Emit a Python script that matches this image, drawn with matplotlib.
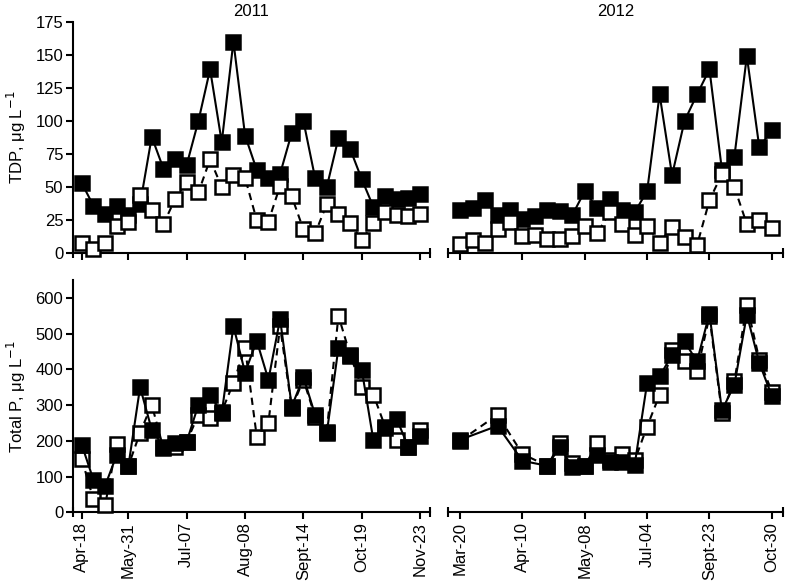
import matplotlib.pyplot as plt
import numpy as np

plt.rcParams['font.family'] = ['Liberation Sans', 'DejaVu Sans']

# sample positions (index of sampling date)
idx_2011 = np.arange(30)
idx_2012 = np.arange(26)
idx_2012_tp = np.array([0, 3, 5] + list(range(7, 26)))

# tick labels
ticks_2011 = [0, 4, 9, 14, 19, 24, 29]
labels_2011 = ['Apr-18', 'May-31', 'Jul-07', 'Aug-08', 'Sept-14', 'Oct-19', 'Nov-23']
ticks_2012 = [0, 5, 10, 15, 20, 25]
labels_2012 = ['Mar-20', 'Apr-10', 'May-08', 'Jul-04', 'Sept-23', 'Oct-30']

# TDP, ug/L
tdp_2011_filled = [53, 36, 30, 36, 29, 37, 88, 64, 71, 67, 100, 139, 84, 160, 89, 63,
                   57, 60, 91, 100, 57, 50, 87, 79, 56, 35, 43, 41, 42, 45]
tdp_2011_open = [8, 3, 8, 21, 24, 44, 33, 22, 41, 54, 46, 71, 50, 59, 57, 25,
                 24, 51, 43, 18, 15, 37, 30, 23, 10, 23, 31, 29, 28, 30]
tdp_2012_filled = [33, 34, 40, 29, 33, 26, 28, 33, 32, 29, 47, 34, 41, 33, 31, 47,
                   120, 59, 100, 120, 139, 63, 73, 149, 80, 93]
tdp_2012_open = [7, 10, 8, 18, 24, 13, 14, 11, 11, 13, 21, 15, 31, 22, 14, 21,
                 8, 20, 12, 6, 40, 60, 50, 22, 25, 19]

# Total P, ug/L
tp_2011_filled = [189, 91, 74, 161, 130, 350, 231, 184, 193, 198, 301, 329, 277, 521,
                  391, 480, 371, 541, 296, 378, 273, 221, 460, 436, 399, 201, 235, 261,
                  182, 214]
tp_2011_open = [149, 36, 20, 191, 130, 223, 301, 179, 184, 198, 273, 263, 282, 362,
                460, 212, 251, 520, 292, 371, 268, 226, 550, 441, 350, 329, 240, 201,
                182, 231]
tp_2012_filled = [203, 242, 144, 130, 184, 126, 130, 161, 142, 142, 133, 362, 380, 441,
                  478, 422, 556, 285, 357, 553, 418, 326]
tp_2012_open = [200, 273, 163, 130, 193, 137, 130, 193, 147, 163, 145, 240, 329, 455,
                422, 394, 548, 278, 366, 581, 427, 338]

fig = plt.figure(figsize=(7.87, 5.84), dpi=100)

W, H = 787, 584
def box(x0, x1, ytop, ybot):
    return [x0 / W, 1 - ybot / H, (x1 - x0) / W, (ybot - ytop) / H]

ax_tl = fig.add_axes(box(73, 430, 21.7, 253.3))
ax_tr = fig.add_axes(box(447.7, 783, 21.7, 253.3))
ax_bl = fig.add_axes(box(73, 430, 280, 512.3))
ax_br = fig.add_axes(box(447.7, 783, 280, 512.3))

ms = 9.5
mew = 1.8
lw = 1.5

def draw(ax, x_f, y_f, x_o, y_o, open_on_top):
    zf, zo = (3, 4) if open_on_top else (4, 3)
    ax.plot(x_f, y_f, color='black', lw=lw, marker='s', ms=ms, mfc='black',
            mec='black', mew=mew, zorder=zf, clip_on=False)
    ax.plot(x_o, y_o, color='black', lw=lw, ls=(0, (3.5, 2.5)), marker='s', ms=ms,
            mfc='white', mec='black', mew=mew, zorder=zo, clip_on=False)

draw(ax_tl, idx_2011, tdp_2011_filled, idx_2011, tdp_2011_open, True)
draw(ax_tr, idx_2012, tdp_2012_filled, idx_2012, tdp_2012_open, True)
draw(ax_bl, idx_2011, tp_2011_filled, idx_2011, tp_2011_open, False)
draw(ax_br, idx_2012_tp, tp_2012_filled, idx_2012_tp, tp_2012_open, False)

for ax in (ax_tl, ax_tr):
    ax.set_ylim(0, 175)
    ax.set_yticks(np.arange(0, 176, 25))
for ax in (ax_bl, ax_br):
    ax.set_ylim(0, 650)
    ax.set_yticks(np.arange(0, 601, 100))

for ax in (ax_tl, ax_bl):
    ax.set_xlim(-0.75, 29.85)
    ax.set_xticks(ticks_2011)
    ax.set_xticks([-0.75, 29.85], minor=True)
for ax in (ax_tr, ax_br):
    ax.set_xlim(-1.0, 25.9)
    ax.set_xticks(ticks_2012)
    ax.set_xticks([-1.0, 25.9], minor=True)

ax_bl.set_xticklabels(labels_2011, rotation=90)
ax_br.set_xticklabels(labels_2012, rotation=90)
ax_tl.set_xticklabels([])
ax_tr.set_xticklabels([])

for ax in (ax_tl, ax_tr, ax_bl, ax_br):
    ax.spines['top'].set_visible(False)
    ax.spines['right'].set_visible(False)
    for s in ('left', 'bottom'):
        ax.spines[s].set_linewidth(1.5)
    ax.tick_params(which='major', direction='out', length=5, width=1.5,
                   labelsize=12, pad=2)
    ax.tick_params(axis='x', which='minor', direction='inout', length=7, width=1.5)
    ax.set_facecolor('none')

for ax in (ax_tr, ax_br):
    ax.spines['left'].set_visible(False)
    ax.tick_params(axis='y', left=False, labelleft=False)

ax_tl.set_title('2011', fontsize=12, pad=4)
ax_tr.set_title('2012', fontsize=12, pad=4)

ax_tl.set_ylabel('TDP, μg L$^{-1}$', fontsize=12)
ax_bl.set_ylabel('Total P, μg L$^{-1}$', fontsize=12)
ax_tl.yaxis.set_label_coords(-0.125, 0.5)
ax_bl.yaxis.set_label_coords(-0.125, 0.5)

fig.savefig('out.png', dpi=100)
